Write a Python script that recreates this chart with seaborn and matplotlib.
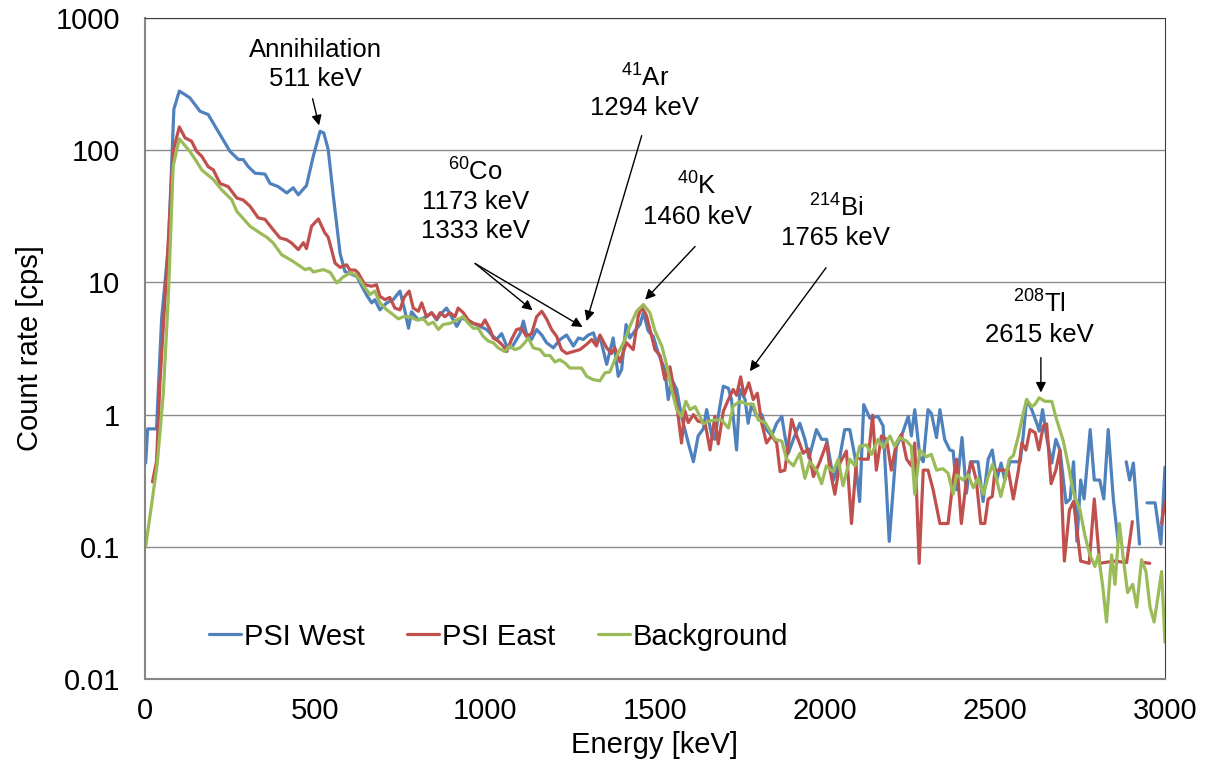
import numpy as np
import pandas as pd
import matplotlib
matplotlib.use("Agg")
import matplotlib.pyplot as plt
import seaborn as sns
from matplotlib.ticker import LogLocator, NullFormatter

# gamma spectra (energy in keV, count rate in cps); nan = gap in the line
west_kev = [2, 8, 34, 49, 69, 85, 101, 118, 132, 162, 186, 221, 250, 275, 289, 304, 324, 353, 368, 392,
            417, 436, 451, 475, 495, 515, 526, 539, 554, 574, 588, 623, 652, 667, 676, 691, 711, 730, 750, 765,
            775, 784, 804, 828, 843, 858, 868, 887, 907, 917, 931, 951, 966, 985, 1005, 1020, 1034, 1049, 1064, 1078,
            1093, 1103, 1113, 1122, 1137, 1152, 1167, 1181, 1201, 1221, 1240, 1260, 1275, 1289, 1304, 1319, 1328, 1338, 1358, 1377,
            1392, 1402, 1415, 1426, 1441, 1456, 1466, 1480, 1495, 1510, 1529, 1539, 1549, 1564, 1578, 1598, 1613, 1627, 1642, 1652,
            1667, 1676, 1686, 1701, 1716, 1725, 1740, 1750, 1765, 1774, 1784, 1799, 1814, 1828, 1843, 1858, 1873, 1882, 1892, 1907,
            1926, 1941, 1953, 1975, 1990, 2005, 2025, 2039, 2058, 2073, 2088, 2102, 2114, 2132, 2156, 2171, 2189, 2210, 2225, 2245,
            2254, 2264, 2279, 2289, 2303, 2313, 2328, 2338, 2352, 2367, 2377, 2387, 2403, 2416, 2428, 2450, 2465, 2480, 2492, 2505,
            2518, 2529, 2544, 2574, 2583, 2593, 2608, 2623, 2630, 2640, 2652, 2667, 2679, 2691, 2709, 2721, 2731, 2741, 2752, 2762,
            2780, 2792, 2808, 2820, 2833, 2848, 2862, 2874, 2886, 2896, 2907, 2925, 2936, 2947, 2971, 2988, 3000]
west_cps = [0.43, 0.78, 0.78, 5.3, 19, 204, 280, 263, 249, 197, 186, 131, 98, 85, 85, 75, 67, 66, 56, 53,
            47.5, 52, 46, 54, 90, 139, 135, 101, 45, 16.5, 12.1, 11.1, 8.0, 7.0, 7.4, 6.2, 7.0, 7.4, 8.6, 6.0,
            4.5, 6.0, 5.2, 5.5, 5.9, 5.2, 5.7, 6.4, 5.2, 4.65, 5.4, 5.1, 4.9, 4.65, 4.4, 4.0, 3.7, 4.1, 3.3, 3.2,
            3.7, 4.1, 5.1, 4.1, 3.7, 4.4, 4.0, 3.5, 3.2, 3.7, 4.0, 3.3, 3.8, 3.7, 4.0, 4.15, 3.5, 3.9, 2.4, 3.8,
            1.95, 2.2, 4.8, 3.8, 4.3, 4.8, 5.9, 4.3, 3.9, 2.9, 2.2, 1.3, 1.85, 1.55, 0.97, 0.61, 0.44, 0.69, 0.78, 1.09,
            0.69, 0.65, 0.97, 1.64, 1.58, 1.3, 0.54, 1.55, 1.3, 0.86, 1.2, 0.97, 1.0, 0.77, 0.69, 0.86, 0.97, 0.69, 0.51, 0.65,
            0.86, 0.65, 0.47, 0.77, 0.65, 0.65, 0.32, 0.41, 0.77, 0.77, 0.48, 0.22, 1.19, 0.94, 0.97, 0.82, 0.11, 0.575, 0.69, 0.97,
            0.69, 1.09, 0.48, 0.44, 1.09, 1.02, 0.67, 1.09, 0.65, 0.54, 0.53, 0.27, 0.67, 0.255, 0.44, 0.44, 0.22, 0.46, 0.54, 0.32,
            0.43, 0.32, 0.44, 0.44, 0.69, 1.3, 1.09, 0.86, 0.75, 1.09, 0.67, 0.43, 0.65, 0.54, 0.215, 0.23, 0.44, 0.11, 0.32, 0.23,
            0.77, 0.32, 0.32, 0.23, 0.77, 0.23, 0.11, np.nan, 0.44, 0.32, 0.43, 0.105, np.nan, 0.215, 0.215, 0.105, 0.4]

east_kev = [22, 34, 44, 64, 83, 101, 118, 137, 152, 167, 186, 201, 221, 245, 270, 289, 309, 333, 353, 373,
            397, 417, 431, 451, 466, 475, 490, 510, 529, 539, 559, 574, 593, 603, 618, 627, 647, 667, 681, 691,
            706, 720, 735, 750, 762, 777, 789, 804, 814, 828, 843, 858, 868, 882, 897, 912, 921, 936, 951, 966,
            980, 990, 1000, 1015, 1024, 1039, 1054, 1064, 1078, 1093, 1108, 1122, 1137, 1152, 1167, 1181, 1196, 1211, 1225, 1240,
            1260, 1279, 1299, 1314, 1328, 1338, 1358, 1372, 1382, 1397, 1416, 1436, 1451, 1461, 1475, 1500, 1515, 1529, 1544, 1564,
            1578, 1588, 1598, 1613, 1627, 1647, 1662, 1676, 1686, 1701, 1716, 1730, 1740, 1752, 1762, 1776, 1789, 1801, 1814, 1828,
            1843, 1858, 1868, 1882, 1902, 1917, 1936, 1951, 1966, 1985, 2005, 2015, 2029, 2044, 2063, 2078, 2093, 2107, 2127, 2140,
            2151, 2166, 2181, 2195, 2210, 2225, 2240, 2254, 2264, 2277, 2289, 2303, 2318, 2338, 2362, 2377, 2387, 2401, 2416, 2431,
            2445, 2458, 2470, 2480, 2492, 2500, 2520, 2539, 2554, 2569, 2579, 2591, 2603, 2618, 2629, 2642, 2652, 2665, 2679, 2691,
            2704, 2719, 2731, 2752, 2777, 2792, 2808, 2850, 2887, 2904, 2920, 2940, 2955, 2972, 2990, 3000]
east_cps = [0.31, 0.44, 1.73, 12.5, 98, 150, 124, 117, 98, 90, 75, 71, 56, 53, 43.5, 42, 37.7, 30.8, 30, 25.8,
            21.7, 21, 19.9, 17.7, 20, 18, 26.6, 30.2, 23.7, 22, 14, 13, 13.6, 12.4, 12.4, 11.8, 9.6, 9.35, 9.6, 7.85,
            7.4, 7.7, 6.4, 6.2, 7.7, 8.6, 6.4, 6.05, 7.0, 5.5, 5.9, 5.3, 5.9, 5.5, 5.9, 5.5, 6.4, 5.9, 5.2, 4.9,
            4.8, 4.7, 5.2, 4.4, 3.8, 3.6, 3.3, 3.0, 3.7, 4.4, 4.5, 3.9, 4.1, 5.5, 6.05, 5.3, 4.4, 3.9, 3.1, 2.9,
            3.0, 3.1, 3.4, 3.7, 3.3, 4.0, 3.2, 2.9, 3.2, 2.5, 3.5, 3.1, 5.6, 6.5, 5.6, 3.1, 2.8, 1.84, 2.3, 1.19,
            0.61, 1.07, 0.87, 1.0, 0.89, 0.87, 0.54, 0.97, 0.6, 1.06, 1.3, 1.55, 1.4, 1.93, 1.4, 1.74, 1.3, 1.45, 0.86, 0.61,
            0.69, 0.61, 0.37, 0.38, 0.92, 0.69, 0.51, 0.55, 0.34, 0.44, 0.61, 0.38, 0.25, 0.43, 0.53, 0.15, 0.47, 0.46, 0.46, 0.99,
            0.38, 0.69, 0.65, 0.38, 0.61, 0.71, 0.46, 0.41, 0.61, 0.075, 0.38, 0.38, 0.27, 0.15, 0.15, 0.32, 0.46, 0.15, 0.32, 0.44,
            0.32, 0.15, 0.15, 0.23, 0.24, 0.38, 0.38, 0.38, 0.23, 0.38, 0.61, 0.54, 0.77, 0.73, 0.54, 0.82, 0.85, 0.30, 0.38, 0.54,
            0.078, 0.19, 0.22, 0.078, 0.075, 0.23, 0.075, 0.078, 0.076, 0.155, np.nan, 0.076, 0.075, np.nan, 0.15, 0.22]

bg_kev = [2, 36, 54, 69, 83, 101, 132, 152, 167, 201, 226, 255, 270, 309, 338, 358, 377, 402, 436, 471,
          485, 495, 525, 545, 564, 583, 603, 618, 632, 647, 662, 676, 691, 711, 730, 745, 760, 779, 799, 819,
          833, 848, 863, 877, 897, 917, 936, 951, 966, 980, 995, 1010, 1024, 1039, 1058, 1073, 1088, 1103, 1117, 1127,
          1142, 1162, 1176, 1191, 1206, 1220, 1235, 1250, 1269, 1284, 1299, 1318, 1338, 1353, 1367, 1382, 1397, 1412, 1426, 1446,
          1466, 1485, 1500, 1520, 1534, 1549, 1564, 1578, 1591, 1603, 1618, 1632, 1642, 1657, 1676, 1696, 1716, 1730, 1750, 1770,
          1789, 1804, 1824, 1838, 1853, 1873, 1887, 1907, 1926, 1941, 1955, 1975, 1990, 2004, 2024, 2039, 2053, 2073, 2088, 2102,
          2122, 2137, 2156, 2171, 2191, 2205, 2220, 2240, 2254, 2264, 2279, 2298, 2313, 2328, 2347, 2362, 2377, 2387, 2406, 2421,
          2436, 2450, 2466, 2480, 2493, 2505, 2517, 2529, 2542, 2554, 2569, 2583, 2593, 2608, 2618, 2630, 2647, 2667, 2681, 2701,
          2716, 2730, 2750, 2765, 2779, 2794, 2804, 2817, 2828, 2843, 2853, 2866, 2877, 2890, 2905, 2917, 2931, 2944, 2956, 2968,
          2980, 2990, 3000]
bg_cps = [0.1, 0.42, 1.45, 8.1, 76, 122, 98, 82, 71, 60, 50, 42.3, 34.5, 26.6, 23.7, 22, 19.9, 16.2, 14.4, 12.5,
          12.8, 12, 12.5, 11.9, 9.9, 11, 11.8, 11.5, 10.5, 9.1, 8.1, 8.6, 7.0, 6.2, 5.7, 5.3, 5.5, 5.5, 5.2, 5.3,
          4.8, 5.0, 4.4, 4.8, 4.9, 5.2, 5.5, 4.9, 4.5, 4.5, 3.9, 3.6, 3.5, 3.2, 3.0, 3.3, 3.1, 3.2, 3.5, 3.8,
          3.2, 3.1, 2.8, 2.8, 2.5, 2.6, 2.46, 2.25, 2.25, 2.25, 1.95, 1.84, 1.8, 2.07, 2.1, 2.6, 3.1, 3.7, 4.65, 6.05,
          6.8, 5.9, 4.3, 3.3, 2.4, 1.55, 1.09, 0.97, 1.26, 1.09, 1.15, 0.97, 0.85, 0.89, 0.91, 0.91, 0.79, 1.16, 1.26, 1.2,
          1.2, 0.91, 0.87, 0.76, 0.65, 0.63, 0.46, 0.41, 0.51, 0.33, 0.44, 0.38, 0.30, 0.41, 0.37, 0.46, 0.29, 0.46, 0.41, 0.575,
          0.59, 0.50, 0.65, 0.56, 0.69, 0.575, 0.67, 0.63, 0.575, 0.25, 0.54, 0.48, 0.50, 0.38, 0.39, 0.36, 0.25, 0.35, 0.32, 0.35,
          0.28, 0.33, 0.25, 0.34, 0.42, 0.32, 0.24, 0.32, 0.46, 0.49, 0.69, 1.02, 1.3, 1.15, 1.2, 1.34, 1.26, 1.26, 0.92, 0.63,
          0.41, 0.26, 0.19, 0.12, 0.087, 0.071, 0.087, 0.05, 0.027, 0.087, 0.052, 0.15, 0.083, 0.045, 0.052, 0.035, 0.08, 0.065, 0.035, 0.027,
          0.043, 0.065, 0.019]

names = ["PSI West", "PSI East", "Background"]
colors = {"PSI West": "#4F81BD", "PSI East": "#C0504D", "Background": "#9BBB59"}


def to_frame(name, kev, cps):
    df = pd.DataFrame({"Energy": kev, "Rate": cps})
    # every nan starts a new piece so the line keeps its gaps
    df["unit"] = name + df["Rate"].isna().cumsum().astype(str)
    df["series"] = name
    return df.dropna()


data = pd.concat([to_frame(names[0], west_kev, west_cps),
                  to_frame(names[1], east_kev, east_cps),
                  to_frame(names[2], bg_kev, bg_cps)], ignore_index=True)

sns.set_style("white")
plt.rcParams["font.family"] = ["Liberation Sans", "DejaVu Sans"]
plt.rcParams["mathtext.fontset"] = "custom"
plt.rcParams["mathtext.rm"] = "Liberation Sans"
plt.rcParams["mathtext.default"] = "regular"
for key in ["text.color", "axes.labelcolor", "xtick.labelcolor", "ytick.labelcolor"]:
    plt.rcParams[key] = "black"

fig, ax = plt.subplots(figsize=(12.08, 7.73), dpi=100)
fig.subplots_adjust(left=0.12, right=0.9644, top=0.9767, bottom=0.1216)

sns.lineplot(data=data, x="Energy", y="Rate", hue="series", hue_order=names, palette=colors,
             units="unit", estimator=None, sort=False, linewidth=2.3, ax=ax)

ax.set_yscale("log")
ax.set_xlim(0, 3000)
ax.set_ylim(0.01, 1000)
ax.set_xticks([0, 500, 1000, 1500, 2000, 2500, 3000])
ax.set_yticks([0.01, 0.1, 1, 10, 100, 1000], ["0.01", "0.1", "1", "10", "100", "1000"])
ax.yaxis.set_minor_locator(LogLocator(base=10, subs=np.arange(2, 10)))
ax.yaxis.set_minor_formatter(NullFormatter())
ax.yaxis.grid(True, which="major", color="#8c8c8c", lw=1.0)
ax.xaxis.grid(False)

for side in ["left", "bottom"]:
    ax.spines[side].set_color("#868686")
    ax.spines[side].set_linewidth(1.5)
for side in ["top", "right"]:
    ax.spines[side].set_color("#404040")
    ax.spines[side].set_linewidth(0.8)

ax.tick_params(axis="both", which="major", direction="out", length=6, width=1.2,
               color="#868686", labelcolor="black", labelsize=21)
ax.tick_params(axis="y", which="major", pad=12)
ax.tick_params(axis="x", which="major", pad=7)
ax.tick_params(axis="y", which="minor", direction="out", length=3.5, width=1.0, color="#868686")
ax.tick_params(axis="x", which="minor", length=0)

ax.set_xlabel("Energy [keV]", fontsize=21, labelpad=4, color="black")
ax.set_ylabel("Count rate [cps]", fontsize=21, labelpad=8, color="black")

sns.move_legend(ax, "center left", bbox_to_anchor=(0.063, 0.064), ncol=3, frameon=False,
                title=None, fontsize=21, handlelength=1.1, handletextpad=0.1,
                columnspacing=1.45, borderpad=0, borderaxespad=0)
for t in ax.get_legend().get_texts():
    t.set_color("black")

# peak labels
txt = dict(ha="center", va="center", fontsize=18.5, linespacing=1.25, color="black")
ax.text(500, 444, "Annihilation\n511 keV", **txt)
ax.text(1470, 275, "$^{41}$Ar\n1294 keV", **txt)
ax.text(971, 41.6, "$^{60}$Co\n1173 keV\n1333 keV", **txt)
ax.text(1624, 41.6, "$^{40}$K\n1460 keV", **txt)
ax.text(2032, 28.6, "$^{214}$Bi\n1765 keV", **txt)
ax.text(2632, 5.3, "$^{208}$Tl\n2615 keV", **txt)

arrow = dict(arrowstyle="-|>", color="black", lw=1.0, mutation_scale=15, shrinkA=0, shrinkB=0)
for start, tip in [((493, 245), (512, 154)),
                   ((1461, 129), (1299, 5.1)),
                   ((971, 13.9), (1140, 6.15)),
                   ((971, 13.9), (1287, 4.6)),
                   ((1618, 18.7), (1471, 7.4)),
                   ((2003, 12.9), (1779, 2.13)),
                   ((2635, 2.7), (2635, 1.47))]:
    ax.annotate("", xy=tip, xytext=start, arrowprops=arrow)

fig.savefig("out.png", dpi=100)
